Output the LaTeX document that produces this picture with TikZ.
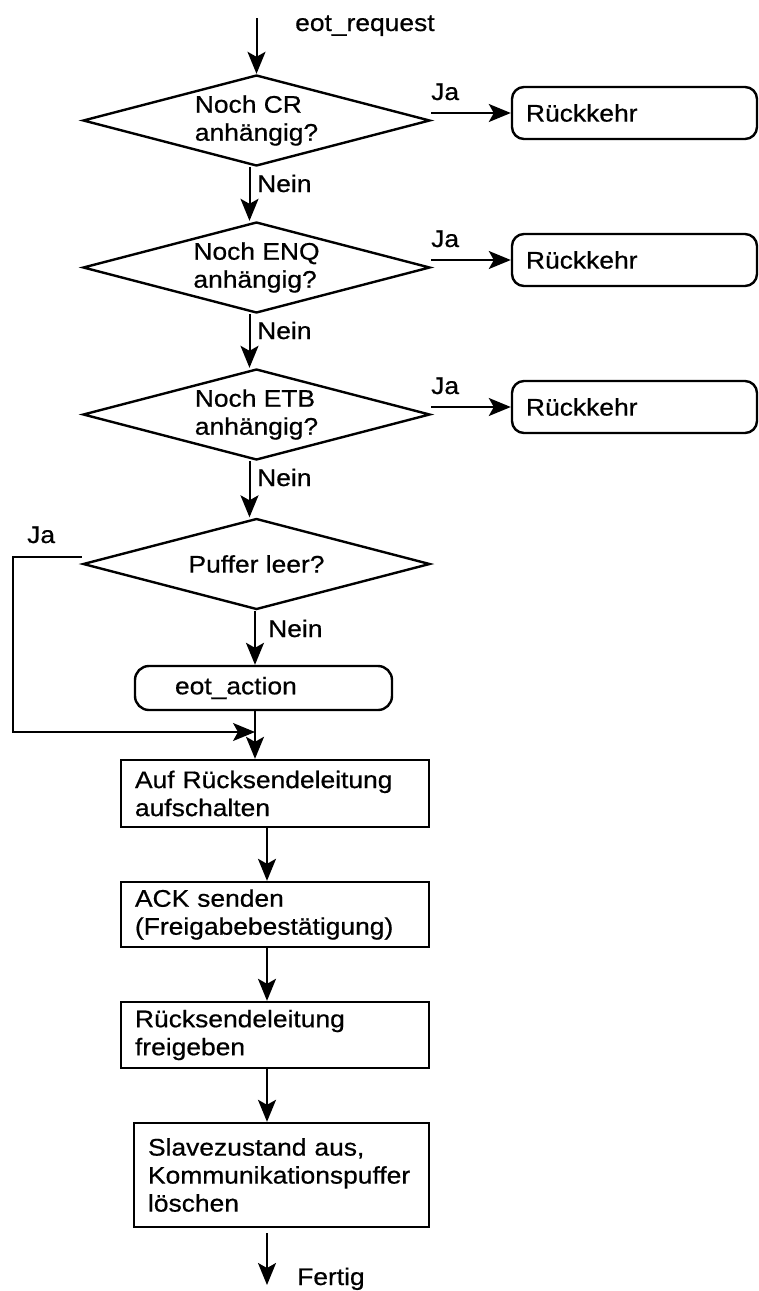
\documentclass[tikz,border=0pt]{standalone}
\usepackage{fontspec}
\setmainfont{Liberation Sans}[FakeStretch=1.1, FakeBold=0.6]
\usetikzlibrary{shapes.geometric,arrows.meta,calc}

\begin{document}
\begin{tikzpicture}[x=1pt,y=-1pt,
  every node/.style={font=\fontsize{24}{28}\selectfont},
  decision/.style={diamond, draw, line width=2.4pt, shape aspect=3.8,
    minimum width=347pt, minimum height=91pt, inner sep=0pt, align=left},
  retbox/.style={rectangle, draw, line width=2.4pt, rounded corners=12pt,
    text width=217pt, inner xsep=14pt, inner ysep=0pt, minimum height=52pt, align=left},
  actbox/.style={rectangle, draw, line width=2.4pt, rounded corners=14pt,
    text width=177pt, inner xsep=40pt, inner ysep=0pt, minimum height=44pt, align=left},
  stepbox/.style={rectangle, draw, line width=2.4pt, text width=280pt,
    inner xsep=14pt, inner ysep=0pt, align=left},
  lbl/.style={anchor=base west, inner sep=0pt},
  arr/.style={line width=2pt, -{Stealth[length=22pt,width=18pt,inset=5pt]}},
  loopline/.style={line width=1.4pt, -{Stealth[length=22pt,width=18pt,inset=5pt]}}
]
\useasboundingbox[fill=white] (0,0) rectangle (759,1291);

% decisions
\node[decision] (d1) at (256.5,120.5) {Noch CR\\anhängig?};
\node[decision] (d2) at (256.5,267.5) {Noch ENQ\\anhängig?};
\node[decision] (d3) at (256.5,414.5) {Noch ETB\\anhängig?};
\node[decision] (d4) at (256.5,564) {Puffer leer?};

% early returns
\node[retbox] (r1) at (634.5,113) {Rückkehr};
\node[retbox] (r2) at (634.5,260) {Rückkehr};
\node[retbox] (r3) at (634.5,407) {Rückkehr};

% action and processing steps
\node[actbox] (ea) at (263.5,688) {eot\_action};
\node[stepbox, minimum height=67pt] (b1) at (275,793.5) {Auf Rücksendeleitung\\aufschalten};
\node[stepbox, minimum height=65pt] (b2) at (275,914.5) {ACK senden\\(Freigabebestätigung)};
\node[stepbox, minimum height=66pt] (b3) at (275,1035) {Rücksendeleitung\\freigeben};
\node[stepbox, text width=267pt, minimum height=104pt] (b4) at (281.5,1175)
  {Slavezustand aus,\\Kommunikationspuffer\\löschen};

% labels
\node[lbl] (lreq) at (295,31) {eot\_request};
\node[lbl] (ja1) at (431,100) {Ja};
\node[lbl] (ja2) at (431,247) {Ja};
\node[lbl] (ja3) at (431,394) {Ja};
\node[lbl] (ja4) at (27,543) {Ja};
\node[lbl] (ne1) at (257,192) {Nein};
\node[lbl] (ne2) at (257,339) {Nein};
\node[lbl] (ne3) at (257,486) {Nein};
\node[lbl] (ne4) at (268,637) {Nein};
\node[lbl] (fert) at (297,1285) {Fertig};

% helper coordinates
\coordinate (start) at (256.5,18);
\coordinate (lj) at (13,557);
\coordinate (lb) at (13,732);
\coordinate (merge) at (255,732);
\coordinate (xb) at (267,0);
\coordinate (finish) at (267,1285);

% connectors
\draw[arr] (start) -- (d1.north);
\draw[arr] (r1.west -| d1.east) -- (r1.west);
\draw[arr] (r2.west -| d2.east) -- (r2.west);
\draw[arr] (r3.west -| d3.east) -- (r3.west);
\draw[arr] ([xshift=-7pt]d1.south) -- ([xshift=-7pt]d2.north);
\draw[arr] ([xshift=-7pt]d2.south) -- ([xshift=-7pt]d3.north);
\draw[arr] ([xshift=-7pt]d3.south) -- ([xshift=-7pt]d4.north);
\draw[arr] (d4.south -| merge) -- (ea.north -| merge);
\draw[loopline] (d4.west |- lj) -- (lj) -- (lb) -- (merge);
\draw[arr] (ea.south -| merge) -- (b1.north -| merge);
\draw[arr] (b1.south -| xb) -- (b2.north -| xb);
\draw[arr] (b2.south -| xb) -- (b3.north -| xb);
\draw[arr] (b3.south -| xb) -- (b4.north -| xb);
\draw[arr, shorten <=5pt] (b4.south -| xb) -- (finish);
\end{tikzpicture}
\end{document}
